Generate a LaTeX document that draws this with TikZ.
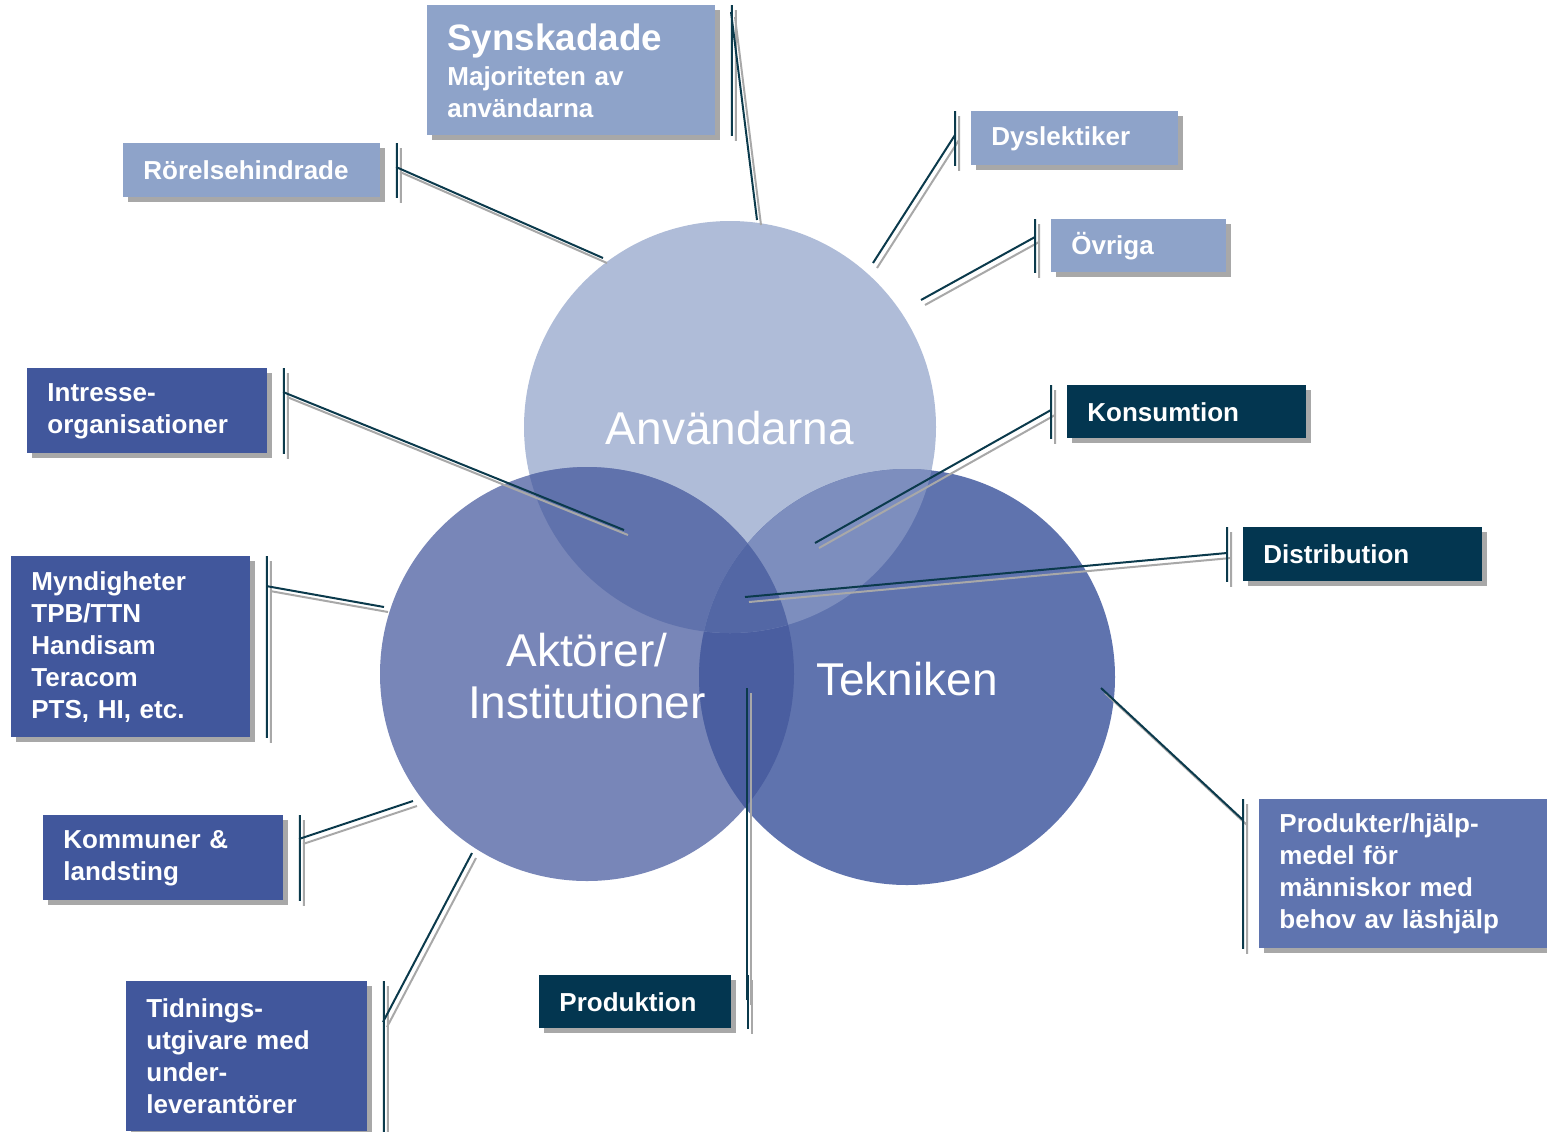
\documentclass[tikz,border=0pt]{standalone}
\usepackage{fontspec}
\setmainfont{Liberation Sans}
\usepackage{xcolor}
\definecolor{colorUsers}{HTML}{AFBCD8}
\definecolor{colorActors}{HTML}{7886B8}
\definecolor{colorTech}{HTML}{5F73AE}
\definecolor{colorUsersActors}{HTML}{6072AC}
\definecolor{colorUsersTech}{HTML}{7D8EBE}
\definecolor{colorActorsTech}{HTML}{4A5EA0}
\definecolor{colorAll}{HTML}{5367A5}
\definecolor{colorLight}{HTML}{8EA3C9}
\definecolor{colorMid}{HTML}{41579C}
\definecolor{colorDark}{HTML}{033650}
\definecolor{colorProd}{HTML}{5F74AF}
\definecolor{colorLine}{HTML}{0B3A4C}
\definecolor{colorShade}{HTML}{A8A8A8}
\usepackage{tikz}
\usetikzlibrary{shadows}

\begin{document}
\begin{tikzpicture}[x=0.5pt, y=-0.5pt,
  box/.style={anchor=north west, inner xsep=10pt, inner ysep=0pt, align=left, text=white,
    font=\bfseries\fontsize{13}{16}\selectfont,
    drop shadow={shadow xshift=2.5pt, shadow yshift=-2.5pt, fill=colorShade, opacity=1}},
  lightbox/.style={box, fill=colorLight},
  midbox/.style={box, fill=colorMid},
  darkbox/.style={box, fill=colorDark},
  prodbox/.style={box, fill=colorProd},
  leader/.style={draw=colorLine, line width=1pt,
    preaction={draw=colorShade, line width=1pt, transform canvas={shift={(2pt,-2.5pt)}}}},
  circ/.style={text=white, align=center, font=\fontsize{23}{26}\selectfont}]
\useasboundingbox[fill=white] (0,0) rectangle (1547,1131);
% circles
\coordinate (uc) at (730,427);
\coordinate (ac) at (587,674);
\coordinate (tc) at (907,677);
\fill[colorUsers] (uc) circle[radius=103pt];
\fill[colorActors] (ac) circle[radius=103.5pt];
\fill[colorTech] (tc) circle[radius=104pt];
\begin{scope}
\clip (ac) circle[radius=103.5pt];
\fill[colorActorsTech] (tc) circle[radius=104pt];
\end{scope}
\begin{scope}
\clip (uc) circle[radius=103pt];
\fill[colorUsersActors] (ac) circle[radius=103.5pt];
\fill[colorUsersTech] (tc) circle[radius=104pt];
\clip (ac) circle[radius=103.5pt];
\fill[colorAll] (tc) circle[radius=104pt];
\end{scope}
\node[circ] (users) at (730,428) {Användarna};
\node[circ] (actors) at (587,676) {Aktörer/\\Institutioner};
\node[circ] (tech) at (907,679) {Tekniken};
% boxes
\node[lightbox, text width=124pt, minimum height=65pt] (syn) at (427,5) {{\fontsize{18.4}{22}\selectfont Synskadade}\\[1.5pt]Majoriteten av\\användarna};
\node[lightbox, text width=108.5pt, minimum height=27pt] (ror) at (123,143) {Rörelsehindrade};
\node[lightbox, text width=83.5pt, minimum height=27pt] (dys) at (971,111) {Dyslektiker};
\node[lightbox, text width=67.5pt, minimum height=26.5pt] (ovr) at (1051,219) {Övriga};
\node[darkbox, text width=99.5pt, minimum height=26.5pt] (kon) at (1067,385) {Konsumtion};
\node[darkbox, text width=99.5pt, minimum height=27pt] (dis) at (1243,527) {Distribution};
\node[prodbox, text width=124pt, minimum height=74.5pt] (pro) at (1259,799) {Produkter/hjälp-\\medel för\\människor med\\behov av läshjälp};
\node[darkbox, text width=76pt, minimum height=26.5pt] (prd) at (539,975) {Produktion};
\node[midbox, text width=100pt, minimum height=42.5pt] (int) at (27,368) {Intresse-\\organisationer};
\node[midbox, text width=99.5pt, minimum height=90.5pt] (myn) at (11,556) {Myndigheter\\TPB/TTN\\Handisam\\Teracom\\PTS, HI, etc.};
\node[midbox, text width=100pt, minimum height=42.5pt] (kom) at (43,815) {Kommuner \&\\landsting};
\node[midbox, text width=100.5pt, minimum height=75pt] (tid) at (126,981) {Tidnings-\\utgivare med\\under-\\leverantörer};
% callout ends
\coordinate (synBar) at (731,12);   \coordinate (synEnd) at (757,220);
\coordinate (rorBar) at (396,167);  \coordinate (rorEnd) at (603,258);
\coordinate (dysBar) at (955,135);  \coordinate (dysEnd) at (873,263);
\coordinate (ovrBar) at (1035,237); \coordinate (ovrEnd) at (921,300);
\coordinate (konBar) at (1051,410); \coordinate (konEnd) at (815,543);
\coordinate (disBar) at (1227,553); \coordinate (disEnd) at (745,597);
\coordinate (proBar) at (1243,820); \coordinate (proEnd) at (1101,688);
\coordinate (prdBar) at (747,1000); \coordinate (prdEnd) at (747,688);
\coordinate (intBar) at (283,392);  \coordinate (intEnd) at (624,530);
\coordinate (mynBar) at (266,586);  \coordinate (mynEnd) at (384,607);
\coordinate (komBar) at (299,839);  \coordinate (komEnd) at (413,801);
\coordinate (tidBar) at (383,1022); \coordinate (tidEnd) at (472,853);
% callouts
\draw[leader] ([xshift=8pt]syn.north east) -- ([xshift=8pt]syn.south east) (synBar) -- (synEnd);
\draw[leader] ([xshift=8pt]ror.north east) -- ([xshift=8pt]ror.south east) (rorBar) -- (rorEnd);
\draw[leader] ([xshift=-8pt]dys.north west) -- ([xshift=-8pt]dys.south west) (dysBar) -- (dysEnd);
\draw[leader] ([xshift=-8pt]ovr.north west) -- ([xshift=-8pt]ovr.south west) (ovrBar) -- (ovrEnd);
\draw[leader] ([xshift=-8pt]kon.north west) -- ([xshift=-8pt]kon.south west) (konBar) -- (konEnd);
\draw[leader] ([xshift=-8pt]dis.north west) -- ([xshift=-8pt]dis.south west) (disBar) -- (disEnd);
\draw[leader] ([xshift=-8pt]pro.north west) -- ([xshift=-8pt]pro.south west) (proBar) -- (proEnd);
\draw[leader] ([xshift=8pt]prd.north east) -- ([xshift=8pt]prd.south east) (prdBar) -- (prdEnd);
\draw[leader] ([xshift=8pt]int.north east) -- ([xshift=8pt]int.south east) (intBar) -- (intEnd);
\draw[leader] ([xshift=8pt]myn.north east) -- ([xshift=8pt]myn.south east) (mynBar) -- (mynEnd);
\draw[leader] ([xshift=8pt]kom.north east) -- ([xshift=8pt]kom.south east) (komBar) -- (komEnd);
\draw[leader] ([xshift=8pt]tid.north east) -- ([xshift=8pt]tid.south east) (tidBar) -- (tidEnd);
\end{tikzpicture}
\end{document}
